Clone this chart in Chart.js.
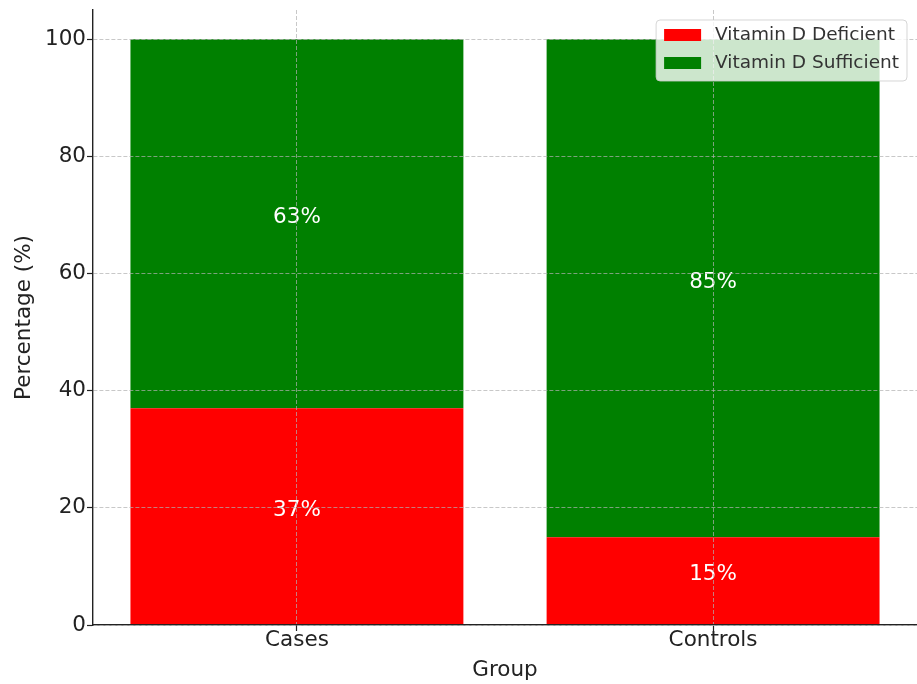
<!DOCTYPE html>
<html>
<head>
<meta charset="utf-8">
<script src="https://cdn.jsdelivr.net/npm/chart.js@4.4.1/dist/chart.umd.min.js"></script>
<style>
  html, body { margin: 0; padding: 0; background: #fff; }
  #wrap { width: 917px; height: 684px; position: relative; }
</style>
</head>
<body>
<div id="wrap"><canvas id="grafico"></canvas></div>
<script>
// dados do gráfico
const grupos = ['Cases', 'Controls'];
const deficiente = [37, 15];
const suficiente = [63, 85];
const ticksY = [0, 20, 40, 60, 80, 100];

Chart.defaults.font.family = "'DejaVu Sans', sans-serif";
Chart.defaults.color = '#222';

const corGrade = 'rgba(176,176,176,0.7)';
const tamFonte = 21.5;

// rótulos brancos no centro de cada segmento
const rotulosBarras = {
    id: 'rotulosBarras',
    afterDatasetsDraw(chart) {
        const ctx = chart.ctx;
        ctx.save();
        ctx.fillStyle = '#fff';
        ctx.font = tamFonte + "px 'DejaVu Sans'";
        ctx.textAlign = 'center';
        ctx.textBaseline = 'middle';
        chart.data.datasets.forEach((ds, i) => {
            chart.getDatasetMeta(i).data.forEach((bar, j) => {
                const meio = (bar.y + bar.base) / 2 - 6;
                ctx.fillText(ds.data[j].y + '%', bar.x, meio);
            });
        });
        ctx.restore();
    }
};

// legenda dentro da área do gráfico, no canto superior direito
const legendaInterna = {
    id: 'legendaInterna',
    afterDraw(chart) {
        const ctx = chart.ctx;
        const area = chart.chartArea;
        ctx.save();
        ctx.font = "18.5px 'DejaVu Sans'";
        const textos = chart.data.datasets.map(ds => ds.label);
        const larguraTexto = Math.max(...textos.map(t => ctx.measureText(t).width));
        const w = 8 + 37 + 14 + larguraTexto + 8;
        const h = 61;
        const x0 = area.right - 10 - w;
        const y0 = area.top + 10;
        ctx.beginPath();
        ctx.roundRect(x0, y0, w, h, 4);
        ctx.fillStyle = 'rgba(255,255,255,0.8)';
        ctx.fill();
        ctx.strokeStyle = 'rgba(204,204,204,0.8)';
        ctx.lineWidth = 1;
        ctx.stroke();
        ctx.textBaseline = 'middle';
        chart.data.datasets.forEach((ds, i) => {
            const cy = y0 + 15 + i * 28;
            ctx.fillStyle = ds.backgroundColor;
            ctx.fillRect(x0 + 8, cy - 6, 37, 12);
            ctx.fillStyle = '#333';
            ctx.fillText(ds.label, x0 + 8 + 37 + 14, cy);
        });
        ctx.restore();
    }
};

const ctx = document.getElementById('grafico').getContext('2d');
new Chart(ctx, {
    type: 'bar',
    data: {
        datasets: [{
            label: 'Vitamin D Deficient',
            data: deficiente.map((v, i) => ({ x: i, y: v })),
            backgroundColor: '#ff0000',
            borderWidth: 0
        }, {
            label: 'Vitamin D Sufficient',
            data: suficiente.map((v, i) => ({ x: i, y: v })),
            backgroundColor: '#008000',
            borderWidth: 0
        }]
    },
    options: {
        responsive: true,
        maintainAspectRatio: false,
        animation: false,
        layout: { padding: { top: 10, right: 0, left: 0, bottom: 0 } },
        datasets: { bar: { barPercentage: 0.8, categoryPercentage: 1 } },
        plugins: {
            legend: { display: false },
            tooltip: { enabled: false }
        },
        scales: {
            x: {
                type: 'linear',
                stacked: true,
                offset: false,
                min: -0.49,
                max: 1.49,
                afterFit: s => { s.height = 59; s.paddingLeft = 0; s.paddingRight = 0; },
                afterBuildTicks: s => { s.ticks = grupos.map((g, i) => ({ value: i })); },
                ticks: {
                    padding: -3,
                    font: { size: tamFonte },
                    callback: v => grupos[v] ?? ''
                },
                grid: {
                    z: 1,
                    offset: false,
                    color: corGrade,
                    tickColor: '#222',
                    tickLength: 6,
                    tickWidth: 1.2
                },
                border: { display: true, z: 1, color: '#222', width: 1.4, dash: [4, 2] },
                title: {
                    display: true,
                    text: 'Group',
                    font: { size: tamFonte },
                    padding: { top: 0, bottom: 1 }
                }
            },
            y: {
                stacked: true,
                min: 0,
                max: 105,
                afterFit: s => { s.width = 93; s.paddingTop = 0; s.paddingBottom = 0; },
                afterBuildTicks: s => { s.ticks = ticksY.map(v => ({ value: v })); },
                ticks: {
                    padding: 1,
                    font: { size: tamFonte }
                },
                grid: {
                    z: 1,
                    color: corGrade,
                    tickColor: '#222',
                    tickLength: 6,
                    tickWidth: 1.2
                },
                border: { display: true, z: 1, color: '#222', width: 1.4, dash: [4, 2] },
                title: {
                    display: true,
                    text: 'Percentage (%)',
                    font: { size: tamFonte },
                    padding: { top: 12, bottom: 0 }
                }
            }
        }
    },
    plugins: [rotulosBarras, legendaInterna]
});
</script>
</body>
</html>
